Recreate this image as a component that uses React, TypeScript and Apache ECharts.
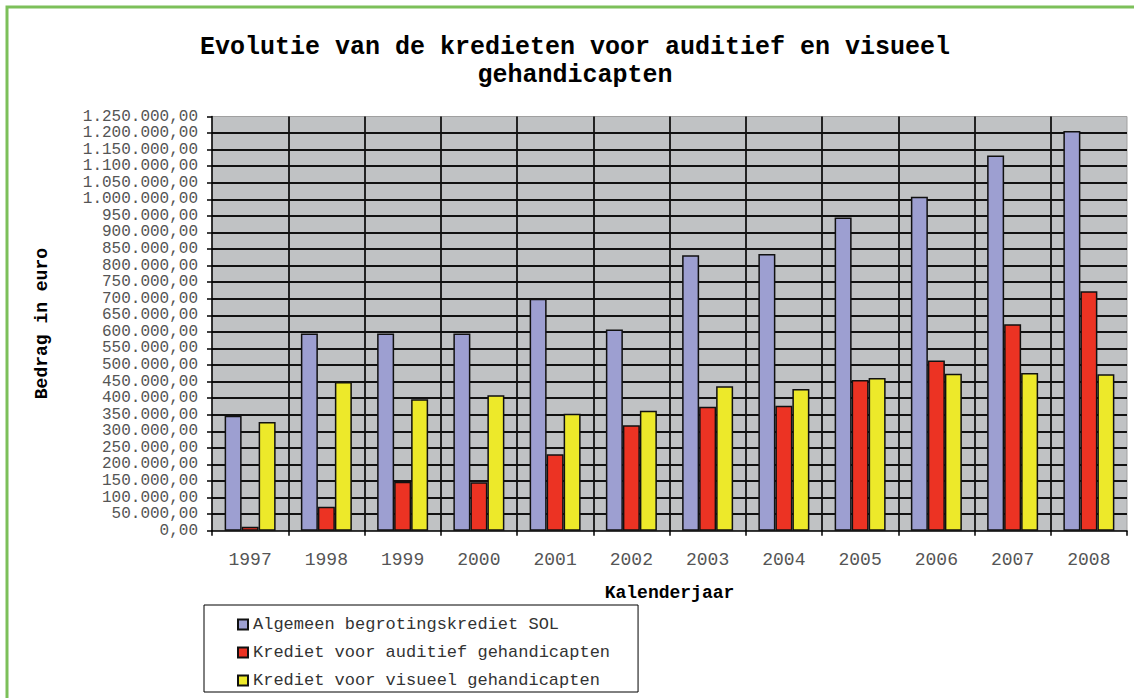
import React, { useEffect, useRef } from "react";
import * as echarts from "echarts";

const years = ["1997", "1998", "1999", "2000", "2001", "2002", "2003", "2004", "2005", "2006", "2007", "2008"];
const algemeen = [347000, 595000, 595000, 595000, 700000, 607000, 831000, 835000, 945000, 1008000, 1132000, 1206000];
const auditief = [12000, 72000, 148000, 146000, 231000, 318000, 374000, 377000, 455000, 514000, 623000, 723000];
const visueel = [328000, 449000, 397000, 409000, 353000, 362000, 436000, 428000, 461000, 474000, 476000, 472000];
const seriesNames = [
  "Algemeen begrotingskrediet SOL",
  "Krediet voor auditief gehandicapten",
  "Krediet voor visueel gehandicapten",
];
const colors = ["#9d9fd1", "#ec3323", "#ede92a"];

const MONO = "'Liberation Mono', 'DejaVu Sans Mono', monospace";

function fmt(v: number): string {
  const s = Math.round(v).toString().replace(/\B(?=(\d{3})+(?!\d))/g, ".");
  return s + ",00";
}

export default function App() {
  const ref = useRef<HTMLDivElement>(null);
  useEffect(() => {
    if (!ref.current) return;
    const chart = echarts.init(ref.current, undefined, { renderer: "svg" });
    const data = [algemeen, auditief, visueel];
    chart.setOption({
      animation: false,
      backgroundColor: "#ffffff",
      title: {
        text: "Evolutie van de kredieten voor auditief en visueel\ngehandicapten",
        left: 570,
        top: 28,
        textAlign: "center",
        textStyle: {
          fontFamily: MONO,
          fontWeight: "bold",
          fontSize: 25,
          lineHeight: 28,
          color: "#000",
        },
      },
      graphic: [
        {
          type: "polyline",
          shape: { points: [[7, 698], [7, 7], [1134, 7]] },
          style: { stroke: "#7cc05a", lineWidth: 3, fill: null },
          silent: true,
        },
      ],
      legend: {
        orient: "vertical",
        left: 204,
        top: 605,
        padding: [11, 28, 3, 33],
        itemGap: 11,
        itemWidth: 10,
        itemHeight: 10,
        borderColor: "#000",
        borderWidth: 1,
        icon: "rect",
        textStyle: { fontFamily: MONO, fontSize: 17, lineHeight: 17, color: "#333" },
        data: seriesNames,
      },
      grid: {
        left: 212,
        top: 116.5,
        right: 7,
        bottom: 167.3,
        show: true,
        backgroundColor: "#c0c2c4",
        borderColor: "#a0a0a0",
        borderWidth: 1,
      },
      xAxis: {
        type: "category",
        data: years,
        name: "Kalenderjaar",
        nameLocation: "middle",
        nameGap: 53,
        nameTextStyle: { fontFamily: MONO, fontWeight: "bold", fontSize: 18, color: "#000" },
        axisLine: { lineStyle: { color: "#000", width: 1.5 } },
        axisTick: { show: true, length: 5, lineStyle: { color: "#000", width: 1.5 } },
        axisLabel: { fontFamily: MONO, fontSize: 18, color: "#555", margin: 20 },
        splitLine: {
          show: true,
          showMinLine: false,
          showMaxLine: false,
          lineStyle: { color: "#111", width: 1.8 },
        },
      },
      yAxis: {
        type: "value",
        min: 0,
        max: 1250000,
        interval: 50000,
        name: "Bedrag in euro",
        nameLocation: "middle",
        nameRotate: 90,
        nameGap: 161,
        nameTextStyle: { fontFamily: MONO, fontWeight: "bold", fontSize: 18, color: "#000" },
        axisLine: { show: true, lineStyle: { color: "#000", width: 1.5 } },
        axisTick: { show: true, length: 5, lineStyle: { color: "#000", width: 1.5 } },
        axisLabel: {
          fontFamily: MONO,
          fontSize: 16,
          lineHeight: 15,
          color: "#555",
          margin: 14,
          showMinLabel: true,
          showMaxLabel: true,
          hideOverlap: false,
          formatter: (v: number) => fmt(v),
        },
        splitLine: {
          show: true,
          showMinLine: false,
          showMaxLine: false,
          lineStyle: { color: "#111", width: 1.8 },
        },
      },
      series: seriesNames.map((name, i) => ({
        name,
        type: "bar",
        data: data[i],
        barWidth: 17,
        barGap: "0%",
        itemStyle: { color: colors[i], borderColor: "#111", borderWidth: 1.5 },
      })),
    });
    return () => chart.dispose();
  }, []);
  return (
    <div
      ref={ref}
      style={{ position: "fixed", left: 0, top: 0, width: 1134, height: 698 }}
    />
  );
}
